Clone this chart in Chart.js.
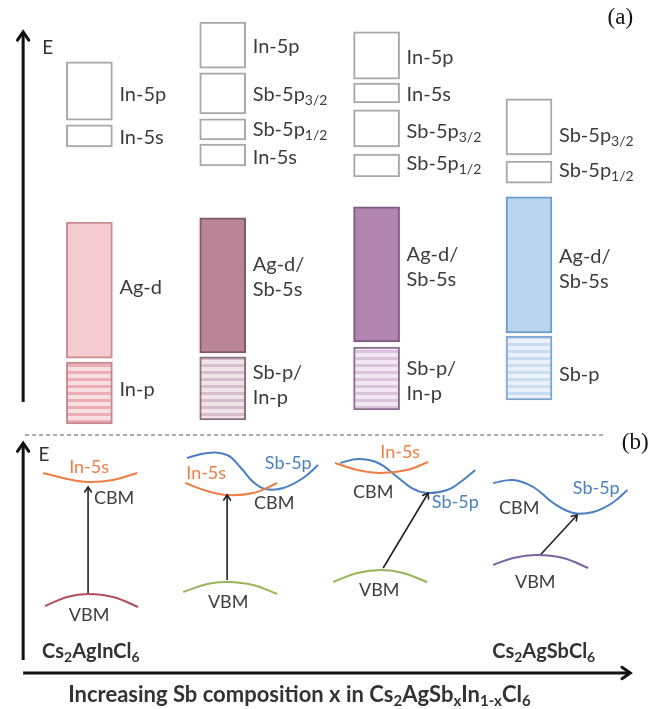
<!DOCTYPE html>
<html>
<head>
<meta charset="utf-8">
<script src="https://cdn.jsdelivr.net/npm/chart.js"></script>
<style>
body { margin: 0; background: #fff; }
#myChart { display: block; }
</style>
</head>
<body>
<canvas id="myChart" width="655" height="709"></canvas>
<script>
// ---- panel (a): energy levels, [bottom, top] in arb. energy units ----
var columns = [1, 1.91, 2.96, 4];
var in5p   = [[7.95, 9.43], [9.27, 10.44], [8.99, 10.19], null];
var in5s   = [[7.27, 7.83], [6.79, 7.34], [8.39, 8.89], null];
var sb5p32 = [null, [8.11, 9.15], [7.27, 8.21], [7.07, 8.49]];
var sb5p12 = [null, [7.45, 7.98], [6.51, 7.09], [6.35, 6.91]];
var agd    = [[1.91, 5.36], [2.04, 5.47], [2.32, 5.75], [2.55, 6.00]];
var pband  = [[0.24, 1.81], [0.34, 1.94], [0.59, 2.19], [0.85, 2.47]];

// level labels: column, energy, text ("|" line break, "_{}" subscript)
var levelLabels = [
  [0, 8.61, 'In-5p'], [0, 7.52, 'In-5s'], [0, 3.71, 'Ag-d'], [0, 1.10, 'In-p'],
  [1, 9.81, 'In-5p'], [1, 8.59, 'Sb-5p_{3/2}'], [1, 7.70, 'Sb-5p_{1/2}'], [1, 7.01, 'In-5s'],
  [1, 3.96, 'Ag-d/|Sb-5s'], [1, 1.23, 'Sb-p/|In-p'],
  [2, 9.55, 'In-5p'], [2, 8.59, 'In-5s'], [2, 7.65, 'Sb-5p_{3/2}'], [2, 6.84, 'Sb-5p_{1/2}'],
  [2, 4.21, 'Ag-d/|Sb-5s'], [2, 1.33, 'Sb-p/|In-p'],
  [3, 7.55, 'Sb-5p_{3/2}'], [3, 6.66, 'Sb-5p_{1/2}'], [3, 4.18, 'Ag-d/|Sb-5s'], [3, 1.48, 'Sb-p']
];

// ---- panel (b): band edges, [x, energy] ----
var in5sEdge1 = [[0.684, 2.996], [0.848, 2.920], [0.991, 2.881], [1.162, 2.907], [1.326, 2.996]];
var vbm1      = [[0.698, 1.307], [0.848, 1.422], [0.991, 1.460], [1.162, 1.422], [1.333, 1.295]];
var gap1      = [[0.991, 1.447], [0.991, 2.818]];

var in5sEdge2 = [[1.654, 2.869], [1.804, 2.767], [1.940, 2.716], [2.118, 2.742], [2.282, 2.869]];
var sb5pEdge2 = [[1.667, 3.186], [1.804, 3.250], [1.940, 3.224], [2.029, 3.072], [2.118, 2.881],
                 [2.200, 2.793], [2.323, 2.805], [2.459, 2.932], [2.561, 3.097]];
var vbm2      = [[1.640, 1.485], [1.804, 1.587], [1.940, 1.612], [2.118, 1.574], [2.282, 1.460]];
var gap2      = [[1.940, 1.637], [1.940, 2.716]];

var in5sEdge3 = [[2.677, 3.123], [2.828, 3.034], [2.985, 2.996], [3.169, 3.034], [3.312, 3.135]];
var sb5pEdge3 = [[2.712, 3.123], [2.834, 3.173], [2.971, 3.123], [3.101, 2.945], [3.210, 2.793],
                 [3.305, 2.742], [3.442, 2.780], [3.551, 2.907], [3.633, 3.034]];
var vbm3      = [[2.664, 1.612], [2.828, 1.726], [2.998, 1.764], [3.142, 1.726], [3.305, 1.612]];
var gap3      = [[3.005, 1.790], [3.312, 2.742]];

var sb5pEdge4 = [[3.756, 2.869], [3.892, 2.907], [4.029, 2.818], [4.166, 2.615], [4.302, 2.488],
                 [4.439, 2.501], [4.568, 2.615], [4.672, 2.780]];
var vbm4      = [[3.756, 1.828], [3.892, 1.917], [4.056, 1.955], [4.234, 1.917], [4.404, 1.790]];
var gap4      = [[4.077, 1.955], [4.329, 2.463]];

// edge labels: x, energy, text, colour
var edgeLabels = [
  [0.998, 3.072, 'In-5s', '#ef7e45'], [1.169, 2.678, 'CBM', '#404040'], [0.998, 1.193, 'VBM', '#404040'],
  [1.797, 2.996, 'In-5s', '#ef7e45'], [2.357, 3.123, 'Sb-5p', '#4a7fc2'], [2.261, 2.615, 'CBM', '#404040'],
  [1.947, 1.358, 'VBM', '#404040'],
  [3.121, 3.262, 'In-5s', '#ef7e45'], [2.937, 2.754, 'CBM', '#404040'], [3.497, 2.628, 'Sb-5p', '#4a7fc2'],
  [2.978, 1.511, 'VBM', '#404040'],
  [4.459, 2.805, 'Sb-5p', '#4a7fc2'], [3.933, 2.551, 'CBM', '#404040'], [4.043, 1.612, 'VBM', '#404040']
];

var FONT = 'Lato';
var patCtx = document.createElement('canvas').getContext('2d');

function stripes(dark, light) {
  var c = document.createElement('canvas');
  c.width = 8; c.height = 7;
  var g = c.getContext('2d');
  g.fillStyle = light; g.fillRect(0, 0, 8, 7);
  g.fillStyle = dark; g.fillRect(0, 0, 8, 3);
  return patCtx.createPattern(c, 'repeat');
}

function ranges(list) {
  var out = [];
  list.forEach(function(r, i) { if (r) out.push({x: columns[i], y: r}); });
  return out;
}

function bandSet(name, list, fill, border) {
  return {
    type: 'bar', label: name, data: ranges(list), yAxisID: 'ya',
    backgroundColor: fill, borderColor: border, borderWidth: 2,
    borderSkipped: false, grouped: false, barThickness: 46, clip: false
  };
}

function curve(pts, color, width, axis, extra) {
  var d = {
    type: 'line', data: pts.map(function(p) { return {x: p[0], y: p[1]}; }),
    yAxisID: axis, borderColor: color, borderWidth: width,
    pointRadius: 0, tension: 0.4, fill: false, clip: false
  };
  for (var k in extra) d[k] = extra[k];
  return d;
}

function drawRich(ctx, text, x, y, size, weight, color, align) {
  var parts = text.split(/_\{([^}]*)\}/);
  var sub = Math.round(size * 0.68);
  var w = 0, i;
  for (i = 0; i < parts.length; i++) {
    ctx.font = weight + ' ' + (i % 2 ? sub : size) + 'px ' + FONT;
    w += ctx.measureText(parts[i]).width;
  }
  var cx = align === 'center' ? x - w / 2 : x;
  ctx.fillStyle = color;
  ctx.textAlign = 'left';
  ctx.textBaseline = 'middle';
  for (i = 0; i < parts.length; i++) {
    ctx.font = weight + ' ' + (i % 2 ? sub : size) + 'px ' + FONT;
    ctx.fillText(parts[i], cx, i % 2 ? y + size * 0.3 : y);
    cx += ctx.measureText(parts[i]).width;
  }
}

var labelPlugin = {
  id: 'labels',
  afterDatasetsDraw: function(chart) {
    var ctx = chart.ctx;
    var sx = chart.scales.x, ya = chart.scales.ya, yb = chart.scales.yb;
    ctx.save();

    // arrow heads on the end of line datasets marked with "head"
    chart.data.datasets.forEach(function(ds, i) {
      if (!ds.head) return;
      var pts = chart.getDatasetMeta(i).data;
      var a = pts[pts.length - 2], b = pts[pts.length - 1];
      var ang = Math.atan2(b.y - a.y, b.x - a.x);
      ctx.strokeStyle = ds.borderColor;
      ctx.lineWidth = ds.borderWidth;
      ctx.lineCap = 'round';
      ctx.beginPath();
      ctx.moveTo(b.x - ds.head * Math.cos(ang - 0.6), b.y - ds.head * Math.sin(ang - 0.6));
      ctx.lineTo(b.x, b.y);
      ctx.lineTo(b.x - ds.head * Math.cos(ang + 0.6), b.y - ds.head * Math.sin(ang + 0.6));
      ctx.stroke();
    });

    // panel (a) labels right of each box
    levelLabels.forEach(function(l) {
      var px = sx.getPixelForValue(columns[l[0]]) + 30;
      var py = ya.getPixelForValue(l[1]);
      var lines = l[2].split('|');
      lines.forEach(function(t, j) {
        drawRich(ctx, t, px, py + (j - (lines.length - 1) / 2) * 25, 20, 'normal', '#3c3c3c', 'left');
      });
    });

    // panel (b) labels
    edgeLabels.forEach(function(l) {
      drawRich(ctx, l[2], sx.getPixelForValue(l[0]), yb.getPixelForValue(l[1]), 18, 'normal', l[3], 'center');
    });

    drawRich(ctx, 'E', sx.getPixelForValue(0.715), ya.getPixelForValue(9.78), 19, 'normal', '#333', 'center');
    drawRich(ctx, 'E', sx.getPixelForValue(0.691), yb.getPixelForValue(3.224), 19, 'normal', '#333', 'center');
    drawRich(ctx, 'Cs_{2}AgInCl_{6}', sx.getPixelForValue(0.677), yb.getPixelForValue(0.724), 20, 'bold', '#333', 'left');
    drawRich(ctx, 'Cs_{2}AgSbCl_{6}', sx.getPixelForValue(3.749), yb.getPixelForValue(0.724), 20, 'bold', '#333', 'left');
    drawRich(ctx, 'Increasing Sb composition x in Cs_{2}AgSb_{x}In_{1-x}Cl_{6}',
      sx.getPixelForValue(0.855), yb.getPixelForValue(0.178), 22, 'bold', '#333', 'left');

    ctx.font = '23px "Liberation Serif"';
    ctx.fillStyle = '#111';
    ctx.textAlign = 'center';
    ctx.textBaseline = 'middle';
    ctx.fillText('(a)', sx.getPixelForValue(4.623), ya.getPixelForValue(10.543));
    ctx.fillText('(b)', sx.getPixelForValue(4.725), yb.getPixelForValue(3.376));
    ctx.restore();
  }
};

var datasets = [
  bandSet('In-5p', in5p, '#ffffff', '#a8a8a8'),
  bandSet('In-5s', in5s, '#ffffff', '#a8a8a8'),
  bandSet('Sb-5p3/2', sb5p32, '#ffffff', '#a8a8a8'),
  bandSet('Sb-5p1/2', sb5p12, '#ffffff', '#a8a8a8'),
  bandSet('Ag-d', agd, ['#f3cbd0', '#b98597', '#b284b0', '#b8d4ee'],
    ['#c98b94', '#80586a', '#7e5a80', '#6f9bca']),
  bandSet('p', pband,
    [stripes('#eeacb4', '#f6e0e3'), stripes('#d9bccb', '#efe4ea'), stripes('#dcc3dc', '#f2e7f2'), stripes('#c9dcf1', '#e9f0f9')],
    ['#c48890', '#8c7080', '#8a6f8c', '#7fa6d2']),

  curve(in5sEdge1, '#ef7e45', 2, 'yb'),
  curve(vbm1, '#b0505e', 2, 'yb'),
  curve(gap1, '#222', 1.6, 'yb', {head: 6, tension: 0}),
  curve(in5sEdge2, '#ef7e45', 2, 'yb'),
  curve(sb5pEdge2, '#4a7fc2', 2, 'yb'),
  curve(vbm2, '#98b45a', 2, 'yb'),
  curve(gap2, '#222', 1.6, 'yb', {head: 6, tension: 0}),
  curve(in5sEdge3, '#ef7e45', 2, 'yb'),
  curve(sb5pEdge3, '#4a7fc2', 2, 'yb'),
  curve(vbm3, '#98b45a', 2, 'yb'),
  curve(gap3, '#222', 1.6, 'yb', {head: 6, tension: 0}),
  curve(sb5pEdge4, '#4a7fc2', 2, 'yb'),
  curve(vbm4, '#7a64a4', 2, 'yb'),
  curve(gap4, '#222', 1.6, 'yb', {head: 6, tension: 0}),

  // axes and divider
  curve([[0.548, 0.794], [0.548, 10.19]], '#111', 3, 'ya', {head: 10, tension: 0}),
  curve([[0.561, -0.044], [4.52, -0.044]], '#555', 1.2, 'ya', {borderDash: [4, 3], tension: 0}),
  curve([[0.548, 0.622], [0.548, 3.376]], '#111', 3, 'yb', {head: 10, tension: 0}),
  curve([[0.548, 0.457], [4.691, 0.457]], '#111', 3, 'yb', {head: 10, tension: 0})
];

var myChart = new Chart(document.getElementById('myChart'), {
  type: 'bar',
  data: { datasets: datasets },
  options: {
    responsive: false,
    animation: false,
    events: [],
    layout: { padding: 0 },
    plugins: { legend: { display: false }, tooltip: { enabled: false } },
    scales: {
      x: { type: 'linear', min: 0.39, max: 4.86, offset: false, display: false },
      ya: { type: 'linear', axis: 'y', min: -7, max: 11, display: false },
      yb: { type: 'linear', axis: 'y', min: 0, max: 9, display: false }
    }
  },
  plugins: [labelPlugin]
});
</script>
</body>
</html>
